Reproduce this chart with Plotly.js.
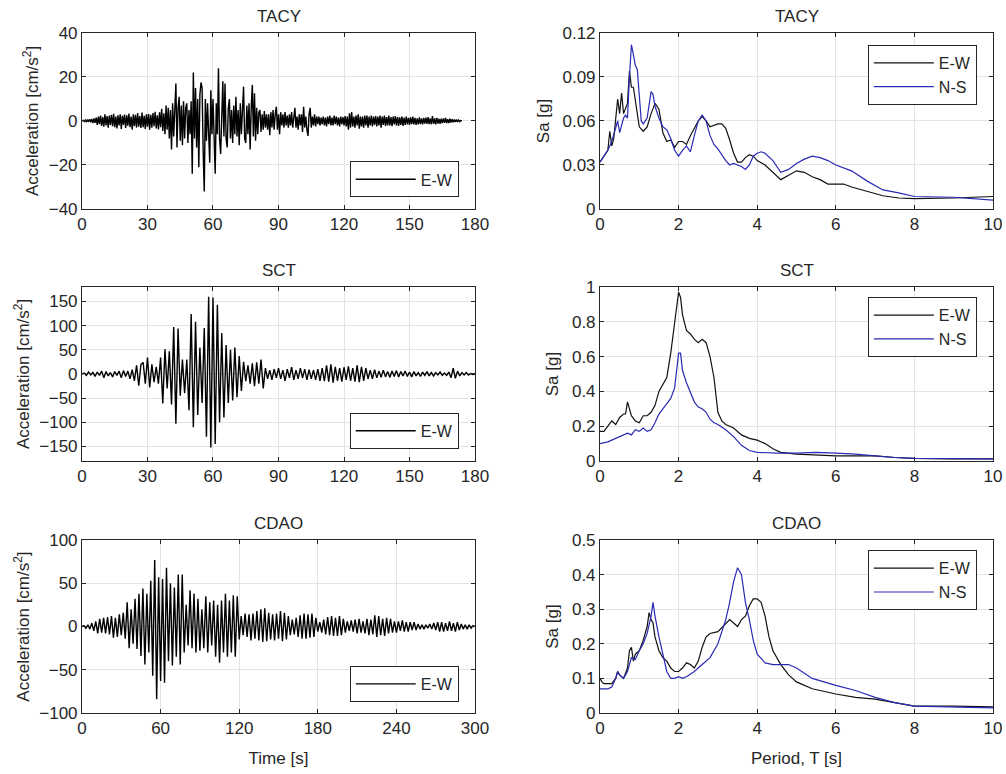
<!DOCTYPE html>
<html>
<head>
<meta charset="utf-8">
<script src="https://cdn.plot.ly/plotly-3.0.1.min.js"></script>
<style>html,body{margin:0;padding:0;background:#fff}#chart{width:1006px;height:774px}</style>
</head>
<body>
<div id="chart"></div>
<script>
// ---------------- Seismograms (E-W acceleration, cm/s^2) ----------------
// TACY: samples every 0.5 s from t = 0 s
const tacyAcc = [
0,0.3,-0.2,0.4,-0.5,0.6,-0.4,0.8,-0.6,0.9,
-1.0,1.2,-0.8,1.5,-1.8,2.0,-1.5,2.4,-2.2,1.8,
-2.6,3.0,-2.0,2.2,-3.0,2.5,-1.8,2.8,-2.4,3.2,
-2.8,2.0,-3.4,2.6,-2.0,3.0,-3.6,2.4,-1.8,2.9,
-3.2,2.6,-2.2,3.4,-2.8,2.0,-4.0,3.0,-2.4,2.8,
-3.0,3.6,-2.6,2.2,-3.2,3.8,-2.8,2.4,-3.6,3.0,
-2.6,3.2,-4.0,2.8,-3.0,3.6,-2.4,4.2,-3.4,2.6,
-3.8,4.0,-2.8,5.5,-4.5,3.5,-6.0,7.0,-4.0,6.0,
-8,5,-13,8,-7,11,17,-12,6,11,
-9,7,-11,9,-8,6,8,-10,5,-6,
9,-24,22,-8,15,-12,10,-21,12,17.5,
15,-14,-32,10,-9,8,-12,-19,14,-6,
10,-12,-24,8,-6,24,-8,-15,9,18,
-7,17,-8,-12,6,10,-8,5,-10,7,
-6,11,-7,5,-11,8,-6,9,15.6,-8,
-10,7,-6,8,-13,6,16.4,-7,12.6,-9,
6,-6,4,5,-5,3,-4,4.5,-3,3,
-4,3,-6.5,4,-3,5,-4,3,6.5,-4,
3,-6,4,-2,3,-3,4,-2,2.5,-3,
3,-2,4,-3,2,6,-3,2,-4,3,
-2,3,-5,6.5,-3,2,-4,-6.8,3,6,
-3,2,-2,3,-2.5,2,-1.5,2,-2,1.5,
-1.5,2,-2,1.5,-2.5,2,-1.5,2.5,-2,1.5,
-2,2.5,-1.5,2,-2,1.5,-2.5,2,-1.5,1.8,
-2,2.2,-2.5,2,-4,3.5,-3,4,-2.5,2,
-3,2.5,-2,3,-3.5,2,-2.5,2,-3,2.5,
-2,2.5,-3,2,-2,2.5,-2.5,2,-1.8,2.2,
-2.5,2,-2,2.5,-3,2,-1.8,2.4,-2.2,1.8,
-2,2.5,-2,1.8,-2.4,2,-1.6,2.2,-2,1.8,
-2.2,1.6,-1.8,2,-2.2,1.5,-1.8,2,-1.6,1.4,
-1.8,1.6,-1.4,2,-1.6,1.4,-1.8,1.2,-1.5,1.6,
-1.4,1.2,-1.6,1.4,-1.2,1.5,-1.3,1.8,-1.4,1.2,
-1.5,2.2,-1.3,1.2,-1.6,1.4,-1.2,1.0,-1.3,1.1,
-1.0,1.2,-0.9,1.4,-1.0,0.8,-0.9,1.0,-0.7,0.8,
-0.6,0.7,-0.5,0.6,-0.4,0.4,-0.3,0.2,0
];
// SCT: samples every 1 s from t = 0 s
const sctAcc = [
0,2,-3,4,-2,3,-5,4,-3,6,
-8,5,-4,3,-6,5,-3,6,-8,7,
-5,6,-10,9,-14,18,-24,20,24,-20,
34,-28,20,-17,15,-20,34,-61,51,-30,
47,-63,97,-103,94,-45,30,-40,30,-75,
124,-110,108,-85,55,-60,95,-130,160,-152,
158,-145,143,-100,85,-90,60,-60,50,-55,
55,-48,37,-35,25,-15,18,-20,22,-25,
24,-20,30,-30,12,-10,8,-12,10,-8,
12,-10,8,-14,10,-8,14,-12,8,-10,
12,-8,10,-12,9,-10,8,-12,10,-14,
12,-15,18,-16,20,-18,15,-14,12,-16,
14,-12,16,-14,12,-16,18,-17,15,-14,
12,-10,8,-10,9,-8,6,-7,8,-6,
5,-7,6,-5,7,-6,5,-4,6,-5,
4,-6,5,-4,3,-5,4,-3,5,-4,
3,-4,3,-2,4,-3,2,-3,4,-8,
12,-9,6,-4,3,-2,3,-2,1,-1,
0
];
// CDAO: samples every 1.5 s from t = 0 s
const cdaoAcc = [
0,1,-2,2,-3,4,-5,6,-8,9,
-7,10,-8,11,-9,12,-13,10,-12,14,
-10,16,-14,28,-25,20,-20,32,-26,38,
-34,44,-44,38,-30,53,-57,77,-84,57,
-63,55,-65,68,-40,50,-45,45,-35,60,
-44,60,-30,25,-22,42,-25,38,-30,32,
-28,20,-25,35,-30,28,-22,30,-35,25,
-42,30,-30,38,-35,30,-30,36,-35,35,
-15,12,-10,15,-12,14,-16,15,-14,18,
-16,20,-18,21,-17,16,-15,14,-16,15,
-14,18,-17,16,-15,12,-10,8,-9,10,
-12,13,-14,15,-14,14,-13,15,-12,10,
-6,5,-7,8,-9,11,-10,12,-11,10,
-11,12,-10,9,-7,6,-5,7,-6,8,
-8,9,-7,6,-8,9,-10,8,-9,13,
-12,12,-10,9,-11,10,-8,9,-7,6,
-7,6,-5,7,-6,5,-6,5,-4,5,
-4,3,-3,2,-3,2,-2,3,-3,4,
-4,5,-6,5,-6,4,-5,6,-5,4,
-6,5,-4,3,-3,2,-3,2,-2,1,
0
];

// ---------------- Response spectra (Sa, g) ----------------
const tacyT_EW  = [0,0.1,0.2,0.25,0.3,0.35,0.4,0.45,0.5,0.55,0.6,0.65,0.7,0.75,0.8,0.85,0.9,1.0,1.1,1.2,1.3,1.4,1.5,1.6,1.7,1.8,1.9,2.0,2.1,2.2,2.3,2.4,2.5,2.6,2.7,2.8,2.9,3.0,3.1,3.2,3.3,3.4,3.5,3.6,3.7,3.8,3.9,4.0,4.2,4.4,4.6,4.8,5.0,5.2,5.4,5.6,5.8,6.0,6.2,6.4,6.8,7.2,7.6,8.0,9.0,10];
const tacySa_EW = [0.032,0.036,0.040,0.053,0.043,0.048,0.060,0.075,0.065,0.079,0.065,0.068,0.072,0.094,0.083,0.083,0.075,0.056,0.053,0.056,0.065,0.072,0.068,0.052,0.046,0.047,0.042,0.046,0.046,0.044,0.050,0.055,0.060,0.063,0.060,0.056,0.057,0.058,0.058,0.055,0.047,0.038,0.032,0.032,0.035,0.037,0.036,0.033,0.030,0.025,0.020,0.023,0.026,0.025,0.022,0.020,0.017,0.017,0.017,0.015,0.012,0.009,0.0075,0.007,0.0075,0.0085];
const tacyT_NS  = [0,0.1,0.2,0.3,0.4,0.45,0.5,0.55,0.6,0.65,0.7,0.75,0.8,0.85,0.9,0.95,1.0,1.05,1.1,1.2,1.3,1.35,1.4,1.5,1.6,1.7,1.8,1.9,2.0,2.1,2.2,2.3,2.4,2.5,2.6,2.7,2.8,2.9,3.0,3.1,3.2,3.3,3.4,3.5,3.6,3.7,3.8,3.9,4.0,4.1,4.2,4.4,4.6,4.8,5.0,5.2,5.4,5.6,5.8,6.0,6.4,6.8,7.2,7.6,8.0,9.0,10];
const tacySa_NS = [0.032,0.036,0.040,0.046,0.055,0.060,0.052,0.058,0.062,0.064,0.062,0.090,0.112,0.105,0.098,0.095,0.075,0.060,0.058,0.062,0.080,0.078,0.070,0.062,0.056,0.054,0.048,0.040,0.036,0.040,0.043,0.039,0.050,0.060,0.064,0.060,0.050,0.044,0.041,0.037,0.033,0.030,0.031,0.030,0.029,0.027,0.030,0.036,0.038,0.039,0.038,0.033,0.025,0.027,0.031,0.034,0.036,0.035,0.033,0.030,0.026,0.019,0.013,0.011,0.0085,0.008,0.006];

const sctT_EW  = [0,0.1,0.2,0.3,0.4,0.5,0.6,0.65,0.7,0.8,0.9,1.0,1.1,1.2,1.3,1.4,1.5,1.6,1.7,1.8,1.9,2.0,2.05,2.1,2.2,2.3,2.4,2.5,2.6,2.7,2.8,2.9,3.0,3.1,3.2,3.4,3.6,3.8,4.0,4.2,4.4,4.6,5.0,5.5,6.0,6.5,7.0,7.5,8.0,9.0,10];
const sctSa_EW = [0.17,0.17,0.20,0.23,0.21,0.25,0.27,0.27,0.34,0.26,0.23,0.22,0.26,0.26,0.28,0.32,0.40,0.44,0.48,0.62,0.80,0.97,0.94,0.84,0.75,0.73,0.70,0.68,0.70,0.68,0.60,0.48,0.28,0.23,0.21,0.19,0.15,0.13,0.12,0.10,0.07,0.05,0.04,0.035,0.03,0.03,0.03,0.02,0.015,0.012,0.012];
const sctT_NS  = [0,0.2,0.4,0.6,0.7,0.8,0.9,1.0,1.1,1.2,1.3,1.4,1.5,1.6,1.7,1.8,1.9,2.0,2.05,2.1,2.2,2.3,2.4,2.5,2.6,2.7,2.8,2.9,3.0,3.2,3.4,3.6,3.8,4.0,4.5,5.0,5.5,6.0,6.5,7.0,7.5,8.0,9.0,10];
const sctSa_NS = [0.10,0.11,0.13,0.15,0.16,0.15,0.18,0.17,0.19,0.17,0.18,0.22,0.27,0.30,0.33,0.36,0.42,0.62,0.62,0.52,0.45,0.40,0.34,0.31,0.30,0.28,0.24,0.22,0.21,0.18,0.14,0.09,0.06,0.05,0.045,0.045,0.05,0.045,0.04,0.03,0.02,0.015,0.013,0.012];

const cdaoT_EW  = [0,0.05,0.1,0.3,0.4,0.45,0.5,0.6,0.7,0.75,0.8,0.85,0.9,1.0,1.1,1.2,1.25,1.3,1.35,1.4,1.5,1.6,1.7,1.8,1.9,2.0,2.1,2.2,2.3,2.4,2.5,2.6,2.7,2.8,3.0,3.2,3.3,3.4,3.5,3.6,3.7,3.8,3.9,4.0,4.1,4.2,4.3,4.4,4.6,4.8,5.0,5.4,6.0,6.5,7.0,7.5,8.0,9.0,10];
const cdaoSa_EW = [0.10,0.09,0.085,0.085,0.10,0.12,0.11,0.10,0.13,0.18,0.19,0.15,0.17,0.18,0.21,0.25,0.29,0.27,0.26,0.22,0.18,0.16,0.15,0.13,0.12,0.12,0.13,0.145,0.14,0.13,0.15,0.19,0.22,0.23,0.235,0.26,0.27,0.26,0.25,0.27,0.28,0.31,0.33,0.33,0.32,0.28,0.22,0.18,0.14,0.11,0.09,0.07,0.055,0.045,0.04,0.03,0.02,0.02,0.018];
const cdaoT_NS  = [0,0.2,0.3,0.4,0.45,0.5,0.6,0.7,0.8,0.9,1.0,1.1,1.2,1.3,1.35,1.4,1.5,1.6,1.7,1.8,1.9,2.0,2.1,2.2,2.4,2.6,2.8,3.0,3.2,3.3,3.4,3.5,3.6,3.7,3.8,3.9,4.0,4.2,4.4,4.6,4.8,5.0,5.4,6.0,6.5,7.0,7.5,8.0,9.0,10];
const cdaoSa_NS = [0.07,0.07,0.075,0.10,0.12,0.11,0.10,0.12,0.16,0.155,0.18,0.20,0.23,0.28,0.32,0.28,0.22,0.17,0.12,0.10,0.10,0.105,0.10,0.105,0.12,0.14,0.16,0.20,0.27,0.32,0.38,0.42,0.40,0.32,0.27,0.21,0.17,0.145,0.14,0.14,0.14,0.13,0.10,0.08,0.065,0.045,0.03,0.02,0.018,0.015];

const stations = ['TACY','SCT','CDAO'];
const compEW = 'E-W', compNS = 'N-S';

// ---------------- Styling ----------------
const FONT = 'Liberation Sans, Arial, Helvetica, sans-serif';
const TXT = '#262626';
const BLUE = '#2a2ab4';
const xL = [0.0815, 0.4722], xR = [0.5964, 0.9871];
const rows = [[0.7300, 0.9574], [0.4044, 0.6292], [0.0788, 0.3023]];

function ax(extra) {
  return Object.assign({
    showline: true, mirror: 'ticks', linecolor: TXT, linewidth: 1,
    ticks: 'inside', ticklen: 4, tickcolor: TXT,
    showgrid: true, gridcolor: '#e3e3e3', gridwidth: 1,
    zeroline: false, tickfont: {family: FONT, size: 17, color: TXT},
    fixedrange: true
  }, extra);
}
function ttl(t, s) { return {text: t, standoff: s, font: {family: FONT, size: 17, color: TXT}}; }

const seis = {line: {color: '#000', width: 1.4}};
const spec = 1.2;
const traces = [
  Object.assign({type: 'scatter', mode: 'lines', name: compEW, y: tacyAcc, x0: 0, dx: 0.5, xaxis: 'x', yaxis: 'y', legend: 'legend'}, seis),
  {type: 'scatter', mode: 'lines', name: compEW, x: tacyT_EW, y: tacySa_EW, xaxis: 'x2', yaxis: 'y2', legend: 'legend2', line: {color: '#111', width: spec}},
  {type: 'scatter', mode: 'lines', name: compNS, x: tacyT_NS, y: tacySa_NS, xaxis: 'x2', yaxis: 'y2', legend: 'legend2', line: {color: BLUE, width: spec}},
  Object.assign({type: 'scatter', mode: 'lines', name: compEW, y: sctAcc, x0: 0, dx: 1, xaxis: 'x3', yaxis: 'y3', legend: 'legend3'}, seis),
  {type: 'scatter', mode: 'lines', name: compEW, x: sctT_EW, y: sctSa_EW, xaxis: 'x4', yaxis: 'y4', legend: 'legend4', line: {color: '#111', width: spec}},
  {type: 'scatter', mode: 'lines', name: compNS, x: sctT_NS, y: sctSa_NS, xaxis: 'x4', yaxis: 'y4', legend: 'legend4', line: {color: BLUE, width: spec}},
  Object.assign({type: 'scatter', mode: 'lines', name: compEW, y: cdaoAcc, x0: 0, dx: 1.5, xaxis: 'x5', yaxis: 'y5', legend: 'legend5'}, seis),
  {type: 'scatter', mode: 'lines', name: compEW, x: cdaoT_EW, y: cdaoSa_EW, xaxis: 'x6', yaxis: 'y6', legend: 'legend6', line: {color: '#111', width: spec}},
  {type: 'scatter', mode: 'lines', name: compNS, x: cdaoT_NS, y: cdaoSa_NS, xaxis: 'x6', yaxis: 'y6', legend: 'legend6', line: {color: BLUE, width: spec}}
];

function leg(x, y, xa, ya) {
  return {x: x, y: y, xanchor: xa, yanchor: ya, xref: 'paper', yref: 'paper',
    bgcolor: '#fff', bordercolor: TXT, borderwidth: 1,
    font: {family: FONT, size: 16, color: TXT}, itemwidth: 60, tracegroupgap: 0};
}

const accTitle = 'Acceleration [cm/s<sup>2</sup>]';
const layout = {
  width: 1006, height: 774, margin: {l: 0, r: 0, t: 0, b: 0},
  paper_bgcolor: '#fff', plot_bgcolor: '#fff', showlegend: true,
  font: {family: FONT, color: TXT},
  xaxis:  ax({domain: xL, anchor: 'y',  range: [0, 180], tick0: 0, dtick: 30}),
  yaxis:  ax({domain: rows[0], anchor: 'x', range: [-40, 40], dtick: 20, title: ttl(accTitle, 5)}),
  xaxis2: ax({domain: xR, anchor: 'y2', range: [0, 10], dtick: 2}),
  yaxis2: ax({domain: rows[0], anchor: 'x2', range: [0, 0.12], tick0: 0, dtick: 0.03, title: ttl('Sa [g]', 8)}),
  xaxis3: ax({domain: xL, anchor: 'y3', range: [0, 180], dtick: 30}),
  yaxis3: ax({domain: rows[1], anchor: 'x3', range: [-180, 180], tickvals: [-150,-100,-50,0,50,100,150], title: ttl(accTitle, 5)}),
  xaxis4: ax({domain: xR, anchor: 'y4', range: [0, 10], dtick: 2}),
  yaxis4: ax({domain: rows[1], anchor: 'x4', range: [0, 1], dtick: 0.2, title: ttl('Sa [g]', 8)}),
  xaxis5: ax({domain: xL, anchor: 'y5', range: [0, 300], dtick: 60, title: ttl('Time [s]', 14)}),
  yaxis5: ax({domain: rows[2], anchor: 'x5', range: [-100, 100], dtick: 50, title: ttl(accTitle, 5)}),
  xaxis6: ax({domain: xR, anchor: 'y6', range: [0, 10], dtick: 2, title: ttl('Period, T [s]', 14)}),
  yaxis6: ax({domain: rows[2], anchor: 'x6', range: [0, 0.5], dtick: 0.1, title: ttl('Sa [g]', 8)}),
  legend:  leg(0.456, 0.745, 'right', 'bottom'),
  legend2: leg(0.971, 0.942, 'right', 'top'),
  legend3: leg(0.456, 0.420, 'right', 'bottom'),
  legend4: leg(0.971, 0.616, 'right', 'top'),
  legend5: leg(0.456, 0.093, 'right', 'bottom'),
  legend6: leg(0.971, 0.289, 'right', 'top'),
  annotations: []
};
[xL, xR].forEach(function (xd) {
  rows.forEach(function (rd, i) {
    layout.annotations.push({text: stations[i], xref: 'paper', yref: 'paper',
      x: (xd[0] + xd[1]) / 2, y: rd[1], xanchor: 'center', yanchor: 'bottom', yshift: 5,
      showarrow: false, font: {family: FONT, size: 17, color: TXT}});
  });
});

Plotly.newPlot('chart', traces, layout, {staticPlot: true, displayModeBar: false});
</script>
</body>
</html>
